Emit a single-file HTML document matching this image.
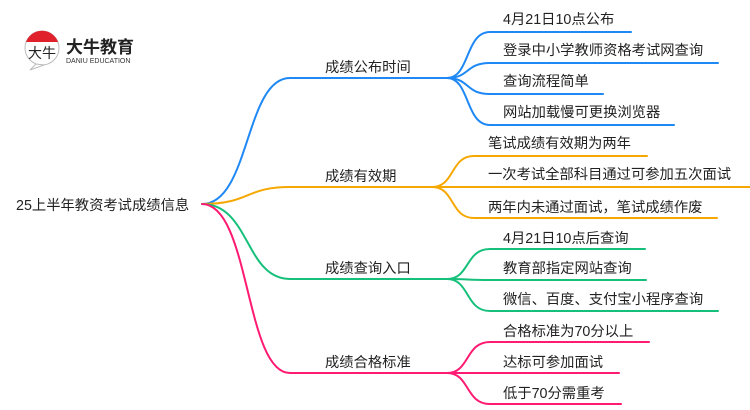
<!DOCTYPE html>
<html><head><meta charset="utf-8"><style>
html,body{margin:0;padding:0;background:#fff;}
svg{display:block;}
text{font-family:"Liberation Sans","Noto Sans CJK SC",sans-serif;font-size:14.3px;fill:#222;}
</style></head><body>
<svg width="750" height="410" viewBox="0 0 750 410" xmlns="http://www.w3.org/2000/svg">
<g fill="none" stroke-width="2" stroke-linecap="round">
<g stroke="#1e88f5">
<path d="M202,204 C250,204 245,78 290,78 L447,78"/>
<path d="M447,78 C470,78 465,32 490,32 L631,32"/>
<path d="M447,78 C470,78 465,63 490,63 L718,63"/>
<path d="M447,78 C470,78 465,94 490,94 L603,94"/>
<path d="M447,78 C470,78 465,125 490,125 L674,125"/>
</g>
<g stroke="#f6a800">
<path d="M202,204 C250,204 245,187 290,187 L432,187"/>
<path d="M432,187 C455,187 450,156 474,156 L647,156"/>
<path d="M432,187 L750,187"/>
<path d="M432,187 C455,187 450,218 474,218 L717,218"/>
</g>
<g stroke="#16c07a">
<path d="M202,204 C250,204 245,279 290,279 L447,279"/>
<path d="M447,279 C470,279 465,249 490,249 L645,249"/>
<path d="M447,279 C470,279 465,280 490,280 L646,280"/>
<path d="M447,279 C470,279 465,311 490,311 L718,311"/>
</g>
<g stroke="#ff1a72">
<path d="M202,204 C250,204 245,373 290,373 L447,373"/>
<path d="M447,373 C470,373 465,342 490,342 L649,342"/>
<path d="M447,373 C470,373 465,373 490,373 L619,373"/>
<path d="M447,373 C470,373 465,404 490,404 L621,404"/>
</g>
</g>
<text x="16" y="210">25上半年教资考试成绩信息</text>
<text x="325" y="72">成绩公布时间</text>
<text x="325" y="181">成绩有效期</text>
<text x="325" y="273">成绩查询入口</text>
<text x="325" y="367">成绩合格标准</text>
<text x="503" y="24">4月21日10点公布</text>
<text x="503" y="55">登录中小学教师资格考试网查询</text>
<text x="503" y="86">查询流程简单</text>
<text x="503" y="117">网站加载慢可更换浏览器</text>
<text x="488" y="148">笔试成绩有效期为两年</text>
<text x="488" y="179">一次考试全部科目通过可参加五次面试</text>
<text x="488" y="212">两年内未通过面试，笔试成绩作废</text>
<text x="503" y="243">4月21日10点后查询</text>
<text x="503" y="273">教育部指定网站查询</text>
<text x="503" y="304">微信、百度、支付宝小程序查询</text>
<text x="503" y="336">合格标准为70分以上</text>
<text x="503" y="367">达标可参加面试</text>
<text x="503" y="398">低于70分需重考</text>
<circle cx="42" cy="48" r="17" fill="#fff" stroke="#bbb" stroke-width="1"/>
<path d="M26,42 A17,17 0 0 1 58,42 Z" fill="#e0202a"/>
<path d="M36,64 L30,70 L44,65 Z" fill="#fff" stroke="#bbb" stroke-width="1"/>
<text x="28" y="58" style="font-size:14px;fill:#222">大牛</text>
<text x="66" y="53" style="font-size:17px;font-weight:bold;fill:#222">大牛教育</text>
<text x="66" y="63" style="font-size:7px;fill:#333">DANIU EDUCATION</text>
</svg>
</body></html>
